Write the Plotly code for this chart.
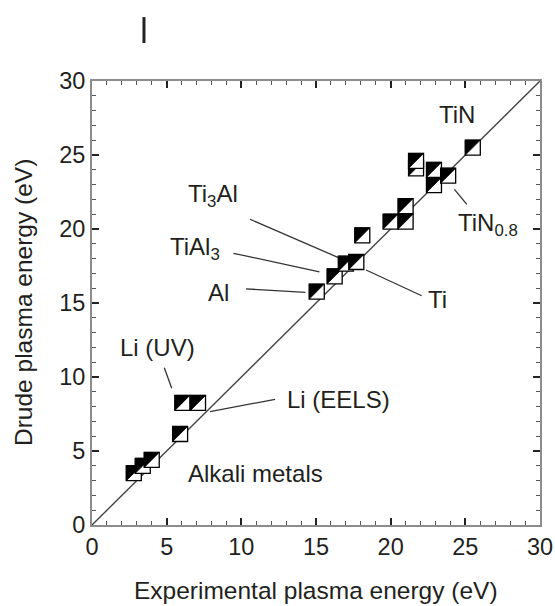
import plotly.graph_objects as go

# Experimental vs. Drude plasma energies (eV), listed in drawing order
exp_energy = [2.8, 3.4, 4.0, 5.9, 6.05, 7.1, 15.05, 16.25, 17.0, 17.7, 18.1,
              20.0, 21.0, 21.0, 21.7, 21.7, 22.9, 22.9, 23.85, 25.5]
drude_energy = [3.5, 4.0, 4.4, 6.15, 8.25, 8.25, 15.77, 16.8, 17.66, 17.77, 19.57,
                20.5, 20.5, 21.55, 24.1, 24.6, 24.0, 22.97, 23.6, 25.5]

axis_range = [0, 30]
tick_values = [0, 5, 10, 15, 20, 25, 30]
x_title = "Experimental plasma energy (eV)"
y_title = "Drude plasma energy (eV)"

# Material labels and their callout lines (data units)
label_text = ["TiN", "TiN<sub>0.8</sub>", "Ti<sub>3</sub>Al", "TiAl<sub>3</sub>", "Al", "Ti",
              "Li (UV)", "Li (EELS)", "Alkali metals"]
label_x = [24.43, 26.5, 8.07, 6.9, 8.5, 23.14, 4.39, 16.51, 10.92]
label_y = [27.77, 20.3, 22.25, 18.7, 15.71, 15.24, 11.96, 8.45, 3.51]
callouts = [
    ((24.27, 22.68), (25.1, 21.66)),
    ((10.58, 20.66), (16.61, 18.02)),
    ((9.47, 18.36), (15.23, 17.11)),
    ((10.31, 15.95), (14.29, 15.72)),
    ((18.35, 17.23), (22.08, 15.49)),
    ((4.84, 10.63), (5.34, 9.24)),
    ((12.26, 8.49), (7.9, 7.66)),
]

FONT = "Liberation Sans, Arial, sans-serif"
TEXT = "#231f20"

fig = go.Figure()

# y = x reference line
fig.add_trace(go.Scatter(x=axis_range, y=axis_range, mode="lines",
                         line=dict(color="#444444", width=1.4),
                         hoverinfo="skip", showlegend=False))

shapes = []
for (x0, y0), (x1, y1) in callouts:
    shapes.append(dict(type="line", xref="x", yref="y", x0=x0, y0=y0, x1=x1, y1=y1,
                       line=dict(color="#333333", width=1.3), layer="above"))

# Half-filled square markers: white square with black upper-left triangle
half = 7.5
for xv, yv in zip(exp_energy, drude_energy):
    shapes.append(dict(type="rect", xref="x", yref="y",
                       xsizemode="pixel", ysizemode="pixel",
                       xanchor=xv, yanchor=yv,
                       x0=-half, x1=half, y0=-half, y1=half,
                       fillcolor="white", line=dict(color="black", width=1.3),
                       layer="above"))
    shapes.append(dict(type="path", xref="x", yref="y",
                       xsizemode="pixel", ysizemode="pixel",
                       xanchor=xv, yanchor=yv,
                       path=f"M{-half},{-half} L{-half},{half} L{half},{half} Z",
                       fillcolor="black", line=dict(color="black", width=0.8),
                       layer="above"))

# stray bar above the panel
shapes.append(dict(type="line", xref="paper", yref="paper",
                   x0=0.116, x1=0.116, y0=1.0856, y1=1.144,
                   line=dict(color="#222222", width=3)))

annotations = []
for t, xv, yv in zip(label_text, label_x, label_y):
    annotations.append(dict(text=t, x=xv, y=yv, xref="x", yref="y",
                            showarrow=False, font=dict(family=FONT, size=24, color=TEXT)))

# axis titles
annotations.append(dict(text=x_title, xref="paper", yref="paper", x=0.5, y=-0.147,
                        yanchor="middle", showarrow=False,
                        font=dict(family=FONT, size=24.5, color=TEXT)))
annotations.append(dict(text=y_title, xref="paper", yref="paper", x=-0.154, y=0.5,
                        xanchor="center", textangle=-90, showarrow=False,
                        font=dict(family=FONT, size=24.5, color=TEXT)))

axis_common = dict(
    range=axis_range, tickvals=tick_values,
    ticks="inside", ticklen=7, tickwidth=1.5, tickcolor="#222222",
    showline=True, linecolor="#8c8c8c", linewidth=2, mirror="ticks",
    showgrid=False, zeroline=False, automargin=False,
    minor=dict(dtick=1, ticks="inside", ticklen=4, tickwidth=1.2,
               tickcolor="#555555", showgrid=False),
    tickfont=dict(family=FONT, size=23.5, color=TEXT),
)

fig.update_layout(
    width=555, height=606,
    margin=dict(l=92, r=15, t=81, b=81, autoexpand=False),
    plot_bgcolor="white", paper_bgcolor="white",
    xaxis=axis_common,
    yaxis=axis_common,
    shapes=shapes, annotations=annotations,
    showlegend=False,
)

fig.write_html("out.html")
